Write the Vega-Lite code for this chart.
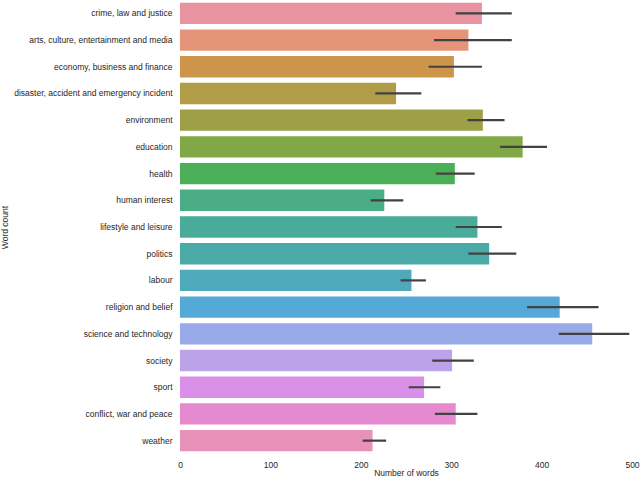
{
  "$schema": "https://vega.github.io/schema/vega-lite/v6.json",
  "width": 452,
  "height": 454,
  "autosize": {"type": "none"},
  "padding": {"left": 180, "top": 0, "right": 8, "bottom": 24},
  "background": "white",
  "config": {
    "view": {"stroke": null},
    "font": "Liberation Sans",
    "axis": {
      "domain": false,
      "ticks": false,
      "grid": false,
      "labelFont": "Liberation Sans",
      "titleFont": "Liberation Sans",
      "labelFontSize": 8.5,
      "titleFontSize": 8.5,
      "labelColor": "#262626",
      "titleColor": "#262626",
      "titleFontWeight": "normal"
    }
  },
  "data": {
    "values": [
      {"category": "crime, law and justice", "words": 334, "lo": 305, "hi": 367},
      {"category": "arts, culture, entertainment and media", "words": 319, "lo": 281, "hi": 367},
      {"category": "economy, business and finance", "words": 303, "lo": 275, "hi": 334},
      {"category": "disaster, accident and emergency incident", "words": 239, "lo": 216, "hi": 267},
      {"category": "environment", "words": 335, "lo": 318, "hi": 359},
      {"category": "education", "words": 379, "lo": 354, "hi": 406},
      {"category": "health", "words": 304, "lo": 283, "hi": 326},
      {"category": "human interest", "words": 226, "lo": 211, "hi": 247},
      {"category": "lifestyle and leisure", "words": 329, "lo": 305, "hi": 356},
      {"category": "politics", "words": 342, "lo": 319, "hi": 372},
      {"category": "labour", "words": 256, "lo": 244, "hi": 272},
      {"category": "religion and belief", "words": 420, "lo": 384, "hi": 463},
      {"category": "science and technology", "words": 456, "lo": 419, "hi": 497},
      {"category": "society", "words": 301, "lo": 279, "hi": 325},
      {"category": "sport", "words": 270, "lo": 253, "hi": 288},
      {"category": "conflict, war and peace", "words": 305, "lo": 282, "hi": 329},
      {"category": "weather", "words": 213, "lo": 202, "hi": 228}
    ]
  },
  "encoding": {
    "y": {
      "field": "category",
      "type": "nominal",
      "sort": null,
      "title": "Word count",
      "scale": {"paddingInner": 0.2, "paddingOuter": 0.1},
      "axis": {"labelPadding": 8, "titlePadding": 4, "labelLimit": 200}
    }
  },
  "layer": [
    {
      "mark": {"type": "bar"},
      "encoding": {
        "x": {
          "field": "words",
          "type": "quantitative",
          "title": "Number of words",
          "scale": {"domain": [0, 500], "nice": false},
          "axis": {"values": [0, 100, 200, 300, 400, 500], "labelFlush": false, "labelPadding": 6, "titlePadding": 0}
        },
        "color": {
          "field": "category",
          "type": "nominal",
          "sort": null,
          "legend": null,
          "scale": {
            "domain": [
              "crime, law and justice",
              "arts, culture, entertainment and media",
              "economy, business and finance",
              "disaster, accident and emergency incident",
              "environment",
              "education",
              "health",
              "human interest",
              "lifestyle and leisure",
              "politics",
              "labour",
              "religion and belief",
              "science and technology",
              "society",
              "sport",
              "conflict, war and peace",
              "weather"
            ],
            "range": [
              "#e8939f", "#e5947a", "#cd9549", "#b19c47", "#9da047", "#81a846",
              "#4aaf57", "#4aad85", "#49ac98", "#4aaaa8", "#4eaabb", "#55a9d8",
              "#98aae8", "#bca2e9", "#da90e8", "#e68ad0", "#e892b9"
            ]
          }
        }
      }
    },
    {
      "mark": {"type": "rule", "color": "#424242", "strokeWidth": 2.2},
      "encoding": {
        "x": {"field": "lo", "type": "quantitative"},
        "x2": {"field": "hi"}
      }
    }
  ]
}
